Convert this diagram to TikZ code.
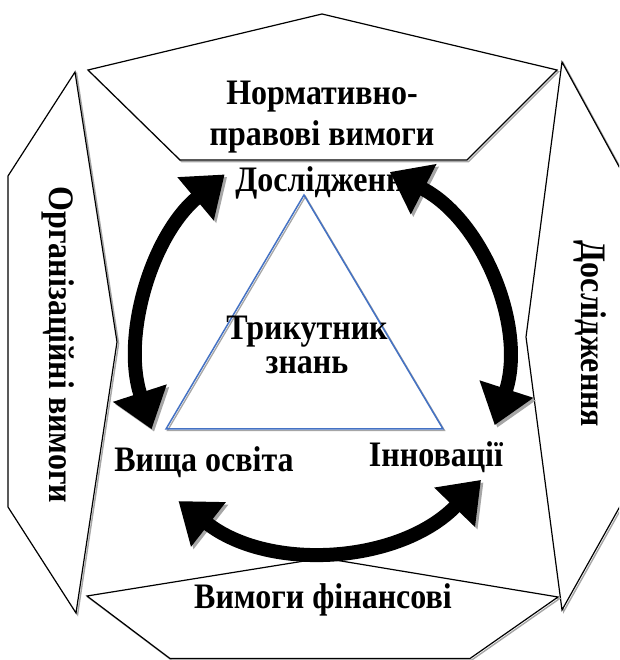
\documentclass[tikz,border=0pt]{standalone}
\usepackage{fontspec}
\setmainfont{Liberation Serif}
\usetikzlibrary{arrows.meta,positioning}
\definecolor{ctri}{HTML}{4472C4}
\definecolor{cshade}{HTML}{A6A6A6}
\tikzset{
  panel/.style={draw,line width=1.2pt,fill=white,
    preaction={draw=cshade,line width=1.4pt,transform canvas={shift={(1.6pt,-1.6pt)}}}},
  cyc/.style={line width=14pt,{Triangle[length=38pt,width=54pt]}-{Triangle[length=38pt,width=54pt]},
    preaction={draw=cshade,transform canvas={shift={(2.5pt,-2.5pt)}}}},
  lbl/.style={font=\bfseries\fontsize{32}{36}\selectfont,align=center,inner sep=0pt},
  tall/.style={transform shape,yscale=1.12},
  >=Stealth
}

\begin{document}
\begin{tikzpicture}[x=1pt,y=1pt]
    \useasboundingbox (0,0) rectangle (619,660);
    \clip (0,0) rectangle (619,660);
    % outer panels
    \draw[panel] (322,646) -- (557,590) -- (467,500) -- (180,500) -- (88,590) -- cycle;
    \draw[panel] (75,588) -- (8,484) -- (8,153) -- (76,47) -- (117,318) -- cycle;
    \draw[panel] (562,598) -- (628,477) -- (628,168) -- (562,50) -- (526,323) -- cycle;
    \draw[panel] (323,102) -- (558,63) -- (470,1.5) -- (170,1.5) -- (87,64) -- cycle;
    \node[lbl,tall] (norm) at (322,543) {Нормативно-\\правові вимоги};
    \node[lbl,rotate=-90,tall] (org) at (58,315) {Організаційні вимоги};
    \node[lbl,rotate=-90,tall] (res) at (590,326) {Дослідження};
    \node[lbl,tall] (fin) at (323,60) {Вимоги фінансові};
    % cycle
    \coordinate (lc) at (377,304);
    \coordinate (rc) at (294,300);
    \coordinate (bc) at (318,337.5);
    \draw[cyc] ([shift={(198:237)}]lc) arc[start angle=198,end angle=130,radius=237];
    \draw[cyc] ([shift={(63:211)}]rc) arc[start angle=63,end angle=-18,radius=211];
    \draw[cyc] ([shift={(232:226.6)}]bc) arc[start angle=232,end angle=316,radius=226.6];
    \draw[ctri,line width=1.5pt,preaction={draw=cshade,line width=1.3pt,transform canvas={shift={(1.5pt,-1.5pt)}}}]
      (304,465) -- (166,231) -- (443,231) -- cycle;
    \node[lbl,font=\bfseries\fontsize{32}{30}\selectfont,tall] (tri) at (307,315) {Трикутник\\знань};
    \node[lbl,tall] (top) at (320,477) {Дослідженн};
    \node[lbl,tall] (edu) at (204,198) {Вища освіта};
    \node[lbl,tall] (inn) at (436,203) {Інновації};
  \end{tikzpicture}
\end{document}
